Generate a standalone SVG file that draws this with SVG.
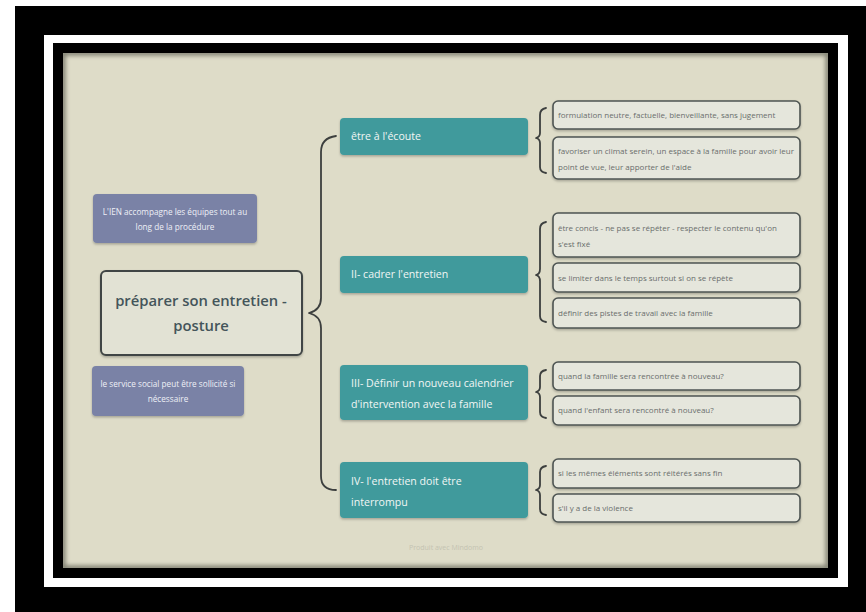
<svg xmlns="http://www.w3.org/2000/svg" width="866" height="612" viewBox="0 0 866 612">
<style>
.teal{fill:#3f9a9c;}
.tt{font-family:"Open Sans","Liberation Sans",sans-serif;font-size:10.6px;fill:#f2f6f4;}
.child{fill:#e5e6dc;stroke:#4e5452;stroke-width:1.6;}
.ct{font-family:"Open Sans","Liberation Sans",sans-serif;font-size:8px;fill:#6a6e6c;}
.side{fill:#7a82a6;}
.st{font-family:"Open Sans","Liberation Sans",sans-serif;font-size:8.2px;fill:#eef0f6;text-anchor:middle;}
.brace{fill:none;stroke:#3c3f3e;stroke-width:1.8;stroke-linecap:round;stroke-linejoin:round;}
.ctr{font-family:"Open Sans","Liberation Sans",sans-serif;font-size:14.8px;font-weight:600;fill:#44555a;text-anchor:middle;}
</style>
<defs>
<filter id="sh" x="-10%" y="-20%" width="120%" height="150%">
<feDropShadow dx="0" dy="1.5" stdDeviation="1.2" flood-color="#000" flood-opacity="0.25"/>
</filter>
<filter id="blur"><feGaussianBlur stdDeviation="2"/></filter>
<clipPath id="inner"><rect x="63" y="53" width="765" height="515"/></clipPath>
</defs>
<rect x="0" y="0" width="866" height="612" fill="#ffffff"/>
<rect x="15" y="6" width="851" height="606" fill="#000"/>
<rect x="44" y="35" width="804" height="552" fill="#ffffff"/>
<rect x="53" y="43" width="785" height="535" fill="#000"/>
<rect x="63" y="53" width="765" height="515" fill="#dedcc8"/>
<g clip-path="url(#inner)">
<rect x="63" y="53" width="765" height="515" fill="none" stroke="#55564c" stroke-width="5" filter="url(#blur)" opacity="0.7"/>
</g>

<g id="connectors">
<path class="brace" d="M336,136 Q321,138 321,152 L321,298 Q321,310 309,313 Q321,316 321,328 L321,476 Q321,490 336,490"/>
<path class="brace" d="M546,108 Q540,109 540,115 L540,133 Q540,137 536,138 Q540,139 540,143 L540,167 Q540,172 546,173"/>
<path class="brace" d="M546,222 Q540,223 540,229 L540,269 Q540,274 536,275 Q540,276 540,281 L540,316 Q540,321 546,322"/>
<path class="brace" d="M546,370 Q540,371 540,376 L540,387 Q540,391 536,392 Q540,393 540,397 L540,412 Q540,417 546,418"/>
<path class="brace" d="M546,466 Q540,467 540,472 L540,485 Q540,489 536,490 Q540,491 540,495 L540,509 Q540,514 546,515"/>
</g>

<g id="center">
<rect x="101" y="271" width="201" height="84" rx="5" fill="#e2e2d4" stroke="#3f4544" stroke-width="2" filter="url(#sh)"/>
<text class="ctr" x="201" y="306">préparer son entretien -</text>
<text class="ctr" x="201" y="331">posture</text>
</g>

<g id="side1">
<rect class="side" x="93" y="194" width="164" height="49" rx="4" filter="url(#sh)"/>
<text class="st" x="175" y="215">L'IEN accompagne les équipes tout au</text>
<text class="st" x="175" y="230">long de la procédure</text>
</g>
<g id="side2">
<rect class="side" x="92" y="366" width="152" height="50" rx="4" filter="url(#sh)"/>
<text class="st" x="168" y="387">le service social peut être sollicité si</text>
<text class="st" x="168" y="402">nécessaire</text>
</g>

<g id="b1">
<rect class="teal" x="340" y="118" width="188" height="37" rx="4" filter="url(#sh)"/>
<text class="tt" x="351" y="140">être à l'écoute</text>
</g>
<g id="b2">
<rect class="teal" x="340" y="256" width="188" height="37" rx="4" filter="url(#sh)"/>
<text class="tt" x="351" y="278">II- cadrer l'entretien</text>
</g>
<g id="b3">
<rect class="teal" x="340" y="365" width="188" height="55" rx="4" filter="url(#sh)"/>
<text class="tt" x="351" y="387">III- Définir un nouveau calendrier</text>
<text class="tt" x="351" y="408">d'intervention avec la famille</text>
</g>
<g id="b4">
<rect class="teal" x="340" y="462" width="188" height="56" rx="4" filter="url(#sh)"/>
<text class="tt" x="351" y="485">IV- l'entretien doit être</text>
<text class="tt" x="351" y="506">interrompu</text>
</g>

<g id="c1a">
<rect class="child" x="553" y="101" width="247" height="28" rx="5" filter="url(#sh)"/>
<text class="ct" x="558" y="118">formulation neutre, factuelle, bienveillante, sans jugement</text>
</g>
<g id="c1b">
<rect class="child" x="553" y="137" width="247" height="42" rx="5" filter="url(#sh)"/>
<text class="ct" x="558" y="154">favoriser un climat serein, un espace à la famille pour avoir leur</text>
<text class="ct" x="558" y="170">point de vue, leur apporter de l'aide</text>
</g>
<g id="c2a">
<rect class="child" x="553" y="213" width="247" height="44" rx="5" filter="url(#sh)"/>
<text class="ct" x="558" y="231">être concis - ne pas se répéter - respecter le contenu qu'on</text>
<text class="ct" x="558" y="247">s'est fixé</text>
</g>
<g id="c2b">
<rect class="child" x="553" y="263" width="247" height="29" rx="5" filter="url(#sh)"/>
<text class="ct" x="558" y="281">se limiter dans le temps surtout si on se répète</text>
</g>
<g id="c2c">
<rect class="child" x="553" y="298" width="247" height="30" rx="5" filter="url(#sh)"/>
<text class="ct" x="558" y="316">définir des pistes de travail avec la famille</text>
</g>
<g id="c3a">
<rect class="child" x="553" y="362" width="247" height="28" rx="5" filter="url(#sh)"/>
<text class="ct" x="558" y="379">quand la famille sera rencontrée à nouveau?</text>
</g>
<g id="c3b">
<rect class="child" x="553" y="396" width="247" height="29" rx="5" filter="url(#sh)"/>
<text class="ct" x="558" y="413">quand l'enfant sera rencontré à nouveau?</text>
</g>
<g id="c4a">
<rect class="child" x="553" y="459" width="247" height="29" rx="5" filter="url(#sh)"/>
<text class="ct" x="558" y="476">si les mêmes éléments sont réitérés sans fin</text>
</g>
<g id="c4b">
<rect class="child" x="553" y="494" width="247" height="28" rx="5" filter="url(#sh)"/>
<text class="ct" x="558" y="511">s'il y a de la violence</text>
</g>

<text x="446" y="550" text-anchor="middle" font-family="Open Sans, Liberation Sans, sans-serif" font-size="7" fill="#c4c3b2">Produit avec Mindomo</text>
</svg>
